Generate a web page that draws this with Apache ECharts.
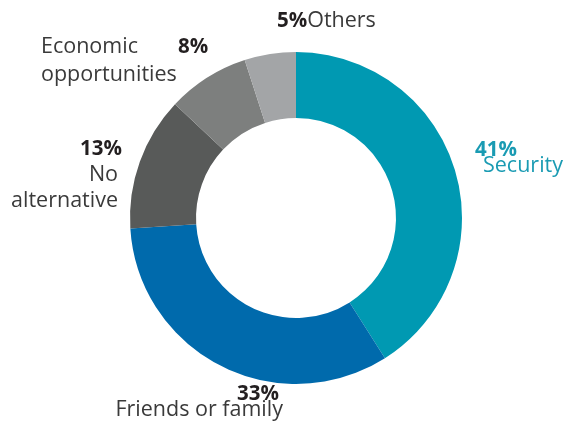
<!DOCTYPE html>
<html>
<head>
<meta charset="utf-8">
<script src="https://cdn.jsdelivr.net/npm/echarts@6/dist/echarts.min.js"></script>
<style>
html,body{margin:0;padding:0;background:#fff;}
#chart{width:569px;height:424px;}
</style>
</head>
<body>
<div id="chart"></div>
<script>
const categories = ['Security', 'Friends or family', 'No alternative', 'Economic opportunities', 'Others'];
const values = [41, 33, 13, 8, 5];

const sliceColors = ['#0099B2', '#006AAC', '#585A59', '#7D7F7E', '#A3A5A7'];
const FONT = '"Open Sans", sans-serif';
const FS = 21.5;
const FSB = 20.5;

// label templates per slice
function labelText(i, name, v) {
  const pct = v + '%';
  switch (i) {
    case 0: return '{sp|' + pct + '}\n{sn|' + name + '}';
    case 1: return '{fp|' + pct + '}\n{fn|' + name + '}';
    case 2: {
      const parts = name.split(' ');
      return '{np|' + pct + '}\n{nn|' + parts[0] + '}\n{nn|' + parts.slice(1).join(' ') + '}';
    }
    case 3: {
      const parts = name.split(' ');
      return '{en|' + parts[0] + '}{ep|' + pct + '}\n{en|' + parts.slice(1).join(' ') + '}';
    }
    default: return '{op|' + pct + '}{on|' + name + '}';
  }
}

const labelLayouts = [
  { x: 475, y: 158, align: 'left', verticalAlign: 'middle' },
  { x: 283, y: 402, align: 'right', verticalAlign: 'middle' },
  { x: 122, y: 175, align: 'right', verticalAlign: 'middle' },
  { x: 41, y: 61, align: 'left', verticalAlign: 'middle' },
  { x: 277, y: 21, align: 'left', verticalAlign: 'middle' }
];

const bold = { fontFamily: FONT, fontSize: FSB, fontWeight: 'bold', color: '#231F20' };
const reg = { fontFamily: FONT, fontSize: FS, fontWeight: 'normal', color: '#3A3A3A' };

const chart = echarts.init(document.getElementById('chart'), null, { renderer: 'canvas' });
chart.setOption({
  animation: false,
  series: [{
    type: 'pie',
    center: [296, 218],
    radius: [100, 166],
    startAngle: 90,
    clockwise: true,
    avoidLabelOverlap: false,
    data: categories.map((c, i) => ({ name: c, value: values[i], itemStyle: { color: sliceColors[i] } })),
    itemStyle: { borderWidth: 0 },
    emphasis: { disabled: true },
    labelLine: { show: false },
    label: {
      show: true,
      position: 'outside',
      formatter: p => labelText(p.dataIndex, p.name, p.value),
      rich: {
        sp: Object.assign({}, bold, { color: '#1A9BB3', lineHeight: 15 }),
        sn: Object.assign({}, reg, { color: '#1A9BB3', lineHeight: 15, padding: [0, 0, 0, 8] }),
        fp: Object.assign({}, bold, { lineHeight: 15, padding: [0, 4, 0, 0] }),
        fn: Object.assign({}, reg, { lineHeight: 15 }),
        np: Object.assign({}, bold, { lineHeight: 26 }),
        nn: Object.assign({}, reg, { lineHeight: 26, padding: [0, 4, 0, 0] }),
        en: Object.assign({}, reg, { lineHeight: 28 }),
        ep: Object.assign({}, bold, { lineHeight: 28, padding: [0, 0, 0, 40] }),
        op: Object.assign({}, bold, { lineHeight: 24 }),
        on: Object.assign({}, reg, { lineHeight: 24 })
      }
    },
    labelLayout: params => labelLayouts[params.dataIndex]
  }]
});
</script>
</body>
</html>
